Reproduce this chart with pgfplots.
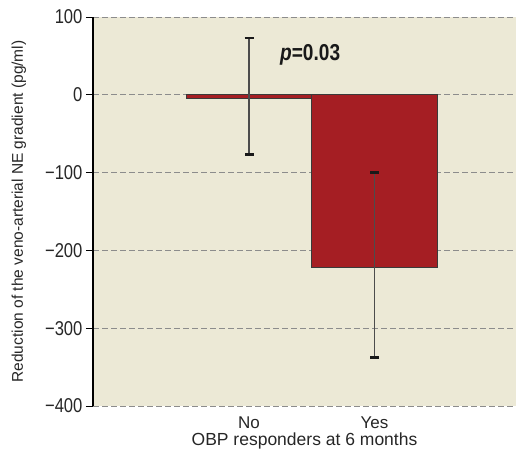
\documentclass[border=0pt]{standalone}
\usepackage{fontspec}
\setmainfont{Liberation Sans}
\newfontfamily\condensed{Liberation Sans}[FakeStretch=0.83]
\usepackage{pgfplots}
\pgfplotsset{compat=1.18}
\definecolor{bgcol}{HTML}{ECE9D6}
\definecolor{barcol}{HTML}{A51E23}
\definecolor{gridcol}{HTML}{8C8C8C}
\definecolor{edgecol}{HTML}{3A3A3A}
\begin{document}
\begin{tikzpicture}
\begin{axis}[
  at={(0,0)}, anchor=south west,
  scale only axis, width=423pt, height=389pt,
  xmin=-1.243, xmax=2.127, ymin=-400, ymax=100,
  axis background/.style={fill=bgcol},
  axis x line=bottom, axis y line=left,
  axis line style={-},
  x axis line style={draw=none},
  y axis line style={black, line width=1.2pt},
  tick align=outside,
  major tick length=7pt,
  ytick={-400,-300,-200,-100,0,100},
  yticklabels={−400,−300,−200,−100,0,100},
  yticklabel style={font=\condensed\fontsize{20}{22}\selectfont, text=black!85},
  ytick style={black, line width=1pt},
  xtick={0,1}, xticklabels={No,Yes},
  xtick style={draw=none},
  xticklabel style={font=\fontsize{17}{19}\selectfont, text=black!85},
  ymajorgrids,
  grid style={gridcol, line width=1pt, dash pattern=on 6pt off 3pt},
  xlabel={OBP responders at 6 months},
  xlabel style={font=\fontsize{17.5}{19}\selectfont, text=black!85, at={(axis description cs:0.5,-0.09)}, anchor=center},
  ylabel={Reduction of the veno-arterial NE gradient (pg/ml)},
  ylabel style={font=\fontsize{15.5}{17}\selectfont, text=black!85, at={(axis description cs:-0.175,0.5)}, anchor=center},
]
\addplot[ybar, bar width=1, fill=barcol, draw=edgecol, line width=1pt,
  error bars/.cd, y dir=both, y explicit,
  error bar style={line width=1.6pt, color=black!70},
  error mark options={rotate=90, mark size=4.5pt, line width=2.6pt, color=black!90}]
  coordinates {(0,-5) += (0,78) -= (0,71.5) (1,-222) += (0,122) -= (0,116)};
\node[anchor=west, font=\condensed\bfseries\fontsize{23}{25}\selectfont, text=black!90] at (axis cs:0.22,51) {\itshape p\upshape=0.03};
\end{axis}
\pgfresetboundingbox
\useasboundingbox (-93pt,-50pt) rectangle (433pt,406pt);
\end{tikzpicture}
\end{document}
